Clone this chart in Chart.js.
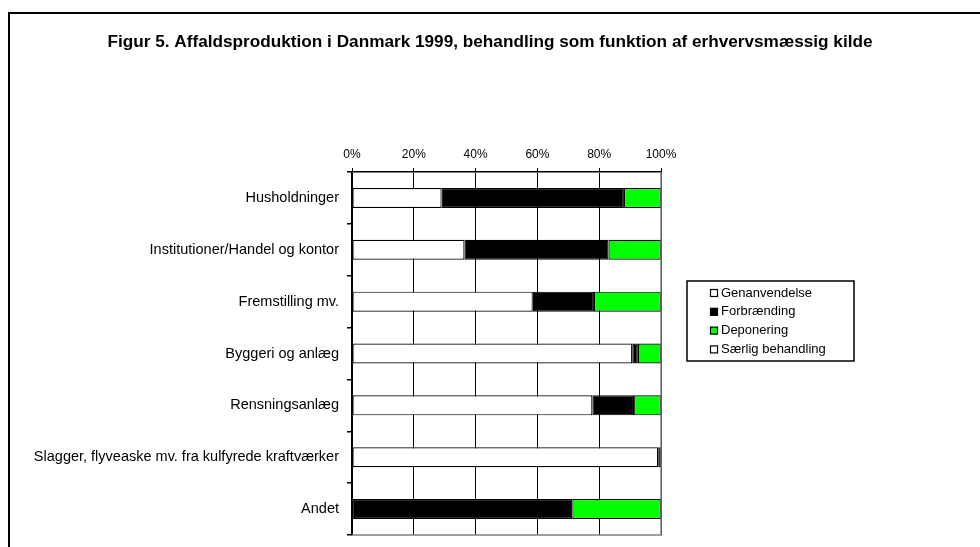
<!DOCTYPE html>
<html><head><meta charset="utf-8">
<script src="https://cdn.jsdelivr.net/npm/chart.js@4.4.1/dist/chart.umd.min.js"></script>
<style>html,body{margin:0;padding:0;background:#fff;}#wrap{width:980px;height:547px;}</style>
</head><body><div id="wrap"><canvas id="c" width="980" height="547"></canvas></div>
<script>
const categories = ["Husholdninger","Institutioner/Handel og kontor","Fremstilling mv.","Byggeri og anlæg","Rensningsanlæg","Slagger, flyveaske mv. fra kulfyrede kraftværker","Andet"];
const genanvendelse = [29, 36.4, 58.5, 90.7, 77.8, 99.1, 0];
const forbraending = [59, 46.6, 19.8, 1.8, 13.5, 0.9, 71.3];
const deponering = [12, 17, 21.7, 7.5, 8.7, 0, 28.7];
const saerlig = [0, 0, 0, 0, 0, 0, 0];
const xTicks = [0, 20, 40, 60, 80, 100];
const title = "Figur 5. Affaldsproduktion i Danmark 1999, behandling som funktion af erhvervsmæssig kilde";

const FONT = "'Liberation Sans', Arial, sans-serif";

const framePlugin = {
  id: 'frame',
  beforeDraw(chart) {
    const ctx = chart.ctx;
    ctx.save();
    ctx.fillStyle = '#fff';
    ctx.fillRect(0, 0, chart.width, chart.height);
    ctx.strokeStyle = '#000';
    ctx.lineWidth = 2;
    ctx.beginPath();
    ctx.moveTo(9, chart.height);
    ctx.lineTo(9, 13);
    ctx.lineTo(chart.width, 13);
    ctx.stroke();
    ctx.fillStyle = '#000';
    ctx.font = 'bold 17.2px ' + FONT;
    ctx.textAlign = 'center';
    ctx.textBaseline = 'middle';
    ctx.fillText(title, 490, 42);
    ctx.restore();
  },
  afterDatasetsDraw(chart) {
    const ctx = chart.ctx, a = chart.chartArea;
    ctx.save();
    ctx.strokeStyle = '#808080';
    ctx.lineWidth = 1.5;
    ctx.beginPath();
    ctx.moveTo(a.left, a.bottom);
    ctx.lineTo(a.right, a.bottom);
    ctx.lineTo(a.right, a.top);
    ctx.stroke();
    ctx.restore();
  },
  afterDraw(chart) {
    const ctx = chart.ctx;
    const x0 = 687, y0 = 281, w = 167, h = 80;
    ctx.save();
    ctx.strokeStyle = '#000';
    ctx.lineWidth = 1.5;
    ctx.strokeRect(x0, y0, w, h);
    ctx.font = '13px ' + FONT;
    ctx.textBaseline = 'middle';
    ctx.textAlign = 'left';
    chart.data.datasets.forEach((ds, i) => {
      const cy = y0 + 12 + i * 18.8;
      ctx.fillStyle = ds.backgroundColor;
      ctx.fillRect(710.5, cy - 3.5, 7, 7);
      ctx.strokeStyle = '#000';
      ctx.lineWidth = 1.2;
      ctx.strokeRect(710.5, cy - 3.5, 7, 7);
      ctx.fillStyle = '#000';
      ctx.fillText(ds.label, 721, cy);
    });
    ctx.restore();
  }
};

new Chart(document.getElementById('c'), {
  type: 'bar',
  data: {
    labels: categories,
    datasets: [
      {label: 'Genanvendelse', data: genanvendelse, backgroundColor: '#ffffff', borderColor: '#000', borderWidth: 1.2, borderSkipped: false},
      {label: 'Forbrænding', data: forbraending, backgroundColor: '#000000', borderColor: '#000', borderWidth: 1.2, borderSkipped: false},
      {label: 'Deponering', data: deponering, backgroundColor: '#00ff00', borderColor: '#000', borderWidth: 1.2, borderSkipped: false},
      {label: 'Særlig behandling', data: saerlig, backgroundColor: '#ffffff', borderColor: '#000', borderWidth: 1.2, borderSkipped: false}
    ]
  },
  options: {
    indexAxis: 'y',
    responsive: false,
    animation: false,
    devicePixelRatio: 1,
    barPercentage: 0.385,
    categoryPercentage: 1,
    layout: {padding: {left: 0, right: 319, top: 50, bottom: 12}},
    plugins: {
      legend: {display: false},
      tooltip: {enabled: false},
      title: {display: false}
    },
    scales: {
      x: {
        position: 'top', stacked: true, min: 0, max: 100,
        afterBuildTicks(s) { s.ticks = xTicks.map(v => ({value: v})); },
        afterFit(s) { s.height = 122; },
        ticks: {color: '#000', font: {family: FONT, size: 12}, padding: 6, callback: v => v + '%', maxRotation: 0},
        grid: {color: '#000', lineWidth: 1, tickLength: 4, drawOnChartArea: true},
        border: {color: '#000', width: 1.5}
      },
      y: {
        stacked: true,
        afterFit(s) { s.width = 352; s.paddingTop = 0; s.paddingBottom = 0; },
        ticks: {color: '#000', font: {family: FONT, size: 14.5}, padding: 8},
        grid: {offset: true, drawOnChartArea: false, color: '#000', tickLength: 5, lineWidth: 1.5},
        border: {color: '#000', width: 1.5}
      }
    }
  },
  plugins: [framePlugin]
});
</script></body></html>
